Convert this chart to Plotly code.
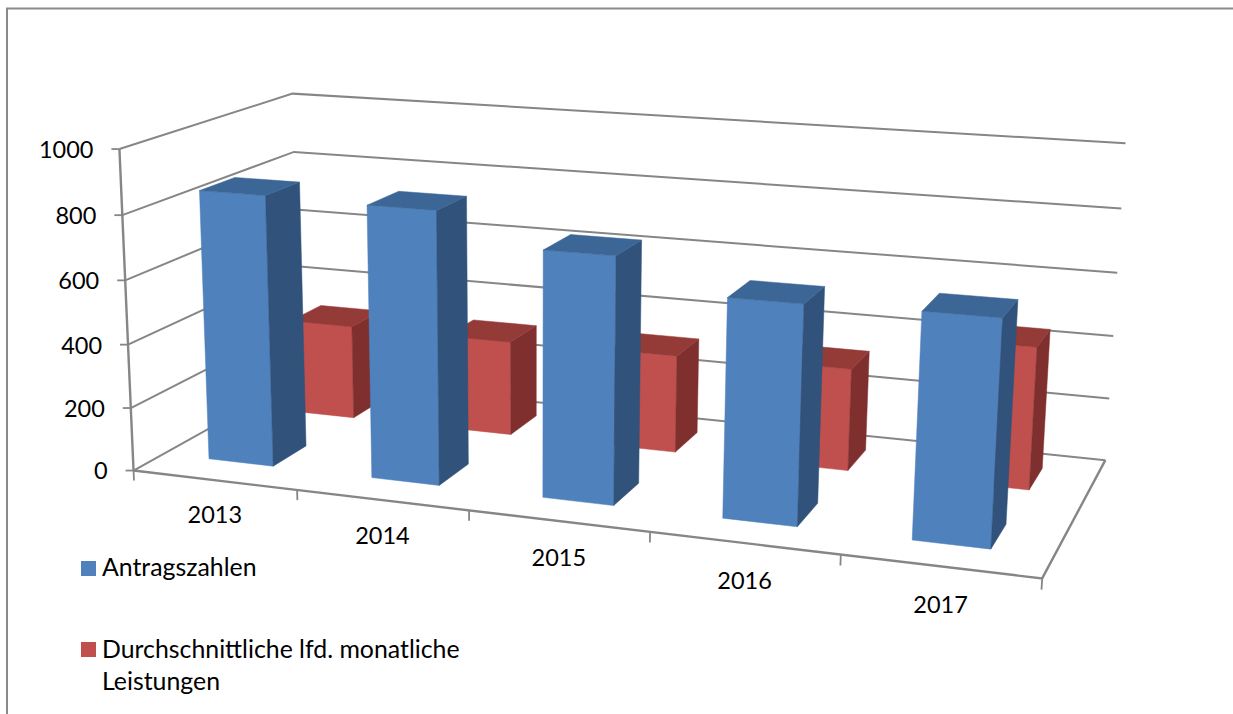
import numpy as np
import plotly.graph_objects as go

# ---- data ----
categories = ["2013", "2014", "2015", "2016", "2017"]
antragszahlen = [851, 845, 752, 657, 665]
leistungen = [310, 308, 313, 323, 443]
value_ticks = [0, 200, 400, 600, 800, 1000]
series_names = ["Antragszahlen", "Durchschnittliche lfd. monatliche<br>Leistungen"]

W, H = 1233, 714
GRID = "#868686"
BLUE = ("#4F81BD", "#31527B", "#3C6695")
RED = ("#C0504D", "#7F2F2D", "#943B38")
FONT = "Lato"

# ---- 3D view: category position, depth (0-1), value -> picture position ----
view_world = np.array([
    [0, 0, 0], [5, 0, 0], [5, 1, 0], [0, 1, 0],
    [0, 0, 1000], [0, 1, 1000], [5, 1, 1000],
    [1, 0, 0], [2, 0, 0], [3, 0, 0], [4, 0, 0],
], float)
view_pix = np.array([
    [135, 468], [1042, 578], [1106, 459], [297, 379],
    [117, 149], [295, 94], [1125, 143],
    [298, 490], [470, 511], [650, 533], [840, 556],
], float)
SW = np.array([5.0, 1.0, 1000.0])
SP = 1000.0


def fit_view():
    rows = []
    for (a, b, c), (u, v) in zip(view_world / SW, view_pix / SP):
        rows.append([a, b, c, 1, 0, 0, 0, 0, -u * a, -u * b, -u * c, -u])
        rows.append([0, 0, 0, 0, a, b, c, 1, -v * a, -v * b, -v * c, -v])
    return np.linalg.svd(np.array(rows))[2][-1].reshape(3, 4)


P = fit_view()


def project(x, y, z):
    q = P @ np.array([x / SW[0], y / SW[1], z / SW[2], 1.0])
    return q[0] / q[2] * SP, q[1] / q[2] * SP


def path(points):
    xs, ys = [], []
    for p in points:
        a, b = project(*p)
        xs.append(a)
        ys.append(b)
    return xs, ys


def add_segments(fig, segments, width, color=GRID):
    xs, ys = [], []
    for seg in segments:
        a, b = path(seg)
        xs += a + [None]
        ys += b + [None]
    fig.add_trace(go.Scatter(x=xs, y=ys, mode="lines", showlegend=False, hoverinfo="skip",
                             line=dict(color=color, width=width)))


def add_bars(fig, values, left, y0, y1, colors, name):
    faces = {0: ([], []), 1: ([], []), 2: ([], [])}
    for i, v in enumerate(values):
        x0, x1 = i + left, i + left + 0.4
        polys = [
            [(x0, y0, 0), (x1, y0, 0), (x1, y0, v), (x0, y0, v)],
            [(x1, y0, 0), (x1, y1, 0), (x1, y1, v), (x1, y0, v)],
            [(x0, y0, v), (x1, y0, v), (x1, y1, v), (x0, y1, v)],
        ]
        for k, poly in enumerate(polys):
            a, b = path(poly + poly[:1])
            faces[k][0].extend(a + [None])
            faces[k][1].extend(b + [None])
    for k, (xs, ys) in faces.items():
        fig.add_trace(go.Scatter(x=xs, y=ys, mode="lines", fill="toself", fillcolor=colors[k],
                                 line=dict(color=colors[k], width=0.5), name=name,
                                 showlegend=False, hoverinfo="skip"))


fig = go.Figure()

# walls and floor
add_segments(fig, [[(0, 0, t), (0, 1, t), (5, 1, t)] for t in value_ticks], 2)
add_segments(fig, [[(0, 0, 0), (5, 0, 0), (5, 1, 0)], [(0, 0, 0), (0, 0, 1000)]], 2.4)
add_segments(fig, [[(i, 0, 0), (i, 0, -32)] for i in range(6)], 1.8)
zx, zy = path([(0, 0, t) for t in value_ticks])
tx, ty = [], []
for a, b in zip(zx, zy):
    tx += [a - 8, a, None]
    ty += [b, b, None]
fig.add_trace(go.Scatter(x=tx, y=ty, mode="lines", showlegend=False, hoverinfo="skip",
                         line=dict(color=GRID, width=1.8)))

# bars, rear series first
add_bars(fig, leistungen, 0.295, 0.665, 0.865, RED, series_names[1])
add_bars(fig, antragszahlen, 0.285, 0.165, 0.365, BLUE, series_names[0])

# tick labels
fig.add_trace(go.Scatter(x=[a - 26 for a in zx], y=[b + 3 for b in zy], mode="text",
                         text=[str(t) for t in value_ticks], textposition="middle left",
                         textfont=dict(family=FONT, size=23.5, color="black"),
                         showlegend=False, hoverinfo="skip"))
cx, cy = path([(i + 0.5, 0, 0) for i in range(len(categories))])
fig.add_trace(go.Scatter(x=[a + 0.5 for a in cx], y=[b + 37 + i for i, b in enumerate(cy)], mode="text",
                         text=categories, textposition="middle center",
                         textfont=dict(family=FONT, size=23.5, color="black"),
                         showlegend=False, hoverinfo="skip"))

# legend entries: text in the legend, swatches placed beside it
for nm, col in zip(series_names, (BLUE[0], RED[0])):
    fig.add_trace(go.Scatter(x=[None], y=[None], mode="markers", name=nm, legendgroup=nm,
                             marker=dict(symbol="line-ew", size=1, color=col, line=dict(width=0))))
fig.add_trace(go.Scatter(x=[88.5, 88.5], y=[568.5, 649.5], mode="markers", showlegend=False,
                         hoverinfo="skip",
                         marker=dict(symbol="square", size=15, color=[BLUE[0], RED[0]])))

fig.update_layout(
    width=W, height=H, margin=dict(l=0, r=0, t=0, b=0),
    paper_bgcolor="white", plot_bgcolor="white",
    xaxis=dict(range=[0, W], visible=False, fixedrange=True),
    yaxis=dict(range=[H, 0], visible=False, fixedrange=True),
    legend=dict(x=62 / W, y=1 - 544 / H, xanchor="left", yanchor="top", tracegroupgap=46,
                font=dict(family=FONT, size=24.85, color="black"), bgcolor="rgba(0,0,0,0)",
                itemwidth=30),
    shapes=[
        dict(type="line", x0=7, x1=7, y0=8.5, y1=H, line=dict(color="#8A8A8A", width=2)),
        dict(type="line", x0=6, x1=W, y0=8.5, y1=8.5, line=dict(color="#8A8A8A", width=2)),
    ],
)

fig.write_html("out.html", post_script="document.body.style.margin='0';", config={"displayModeBar": False})
